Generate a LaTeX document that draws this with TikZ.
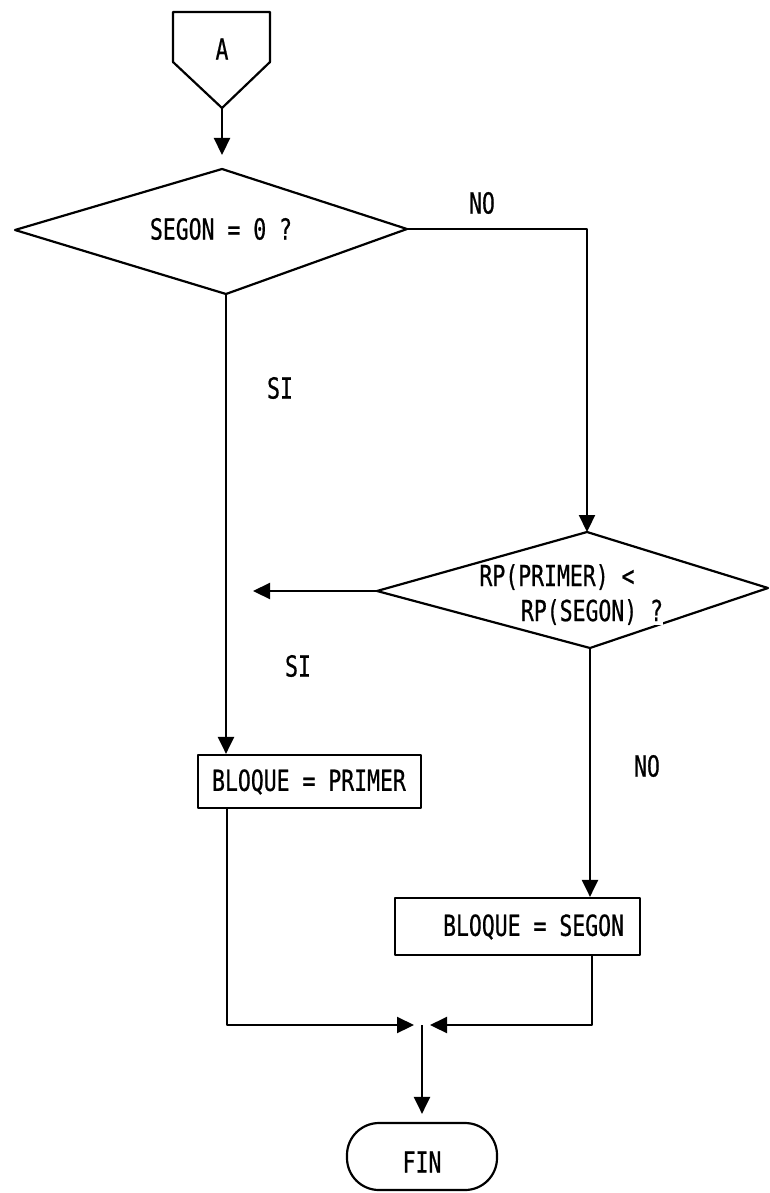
\documentclass[tikz,border=0pt]{standalone}
\usepackage{fontspec}
\setmainfont{DejaVu Sans Mono}[FakeStretch=0.74, FakeBold=0.6]
\usetikzlibrary{arrows.meta}
\begin{document}
\begin{tikzpicture}[x=1pt,y=-1pt,
  line width=2.2pt, line join=round,
  arr/.style={-{Triangle[length=17pt,width=16pt]}},
  txt/.style={font=\fontsize{29}{33}\selectfont, inner sep=0pt},
  lbl/.style={txt, fill=white},
  box/.style={draw, rectangle, inner sep=0pt},
  term/.style={draw, rectangle, rounded corners=32pt, inner sep=0pt},
]
\useasboundingbox (0,0) rectangle (769,1193);

% off-page connector A
\coordinate (aTip) at (222,108);
\draw (173,12) -- (270,12) -- (270,62) -- (aTip) -- (173,62) -- cycle;
\node[txt] (lblA) at (222,49) {A};

% first decision
\coordinate (d1l) at (15,230);
\coordinate (d1t) at (222,169);
\coordinate (d1r) at (407,229);
\coordinate (d1b) at (226,294);
\draw (d1l) -- (d1t) -- (d1r) -- (d1b) -- cycle;
\node[txt] (q1) at (221,229) {SEGON = 0 ?};

% second decision
\coordinate (d2l) at (377,591);
\coordinate (d2t) at (587,532);
\coordinate (d2r) at (768,588);
\coordinate (d2b) at (590,648);
\draw (d2l) -- (d2t) -- (d2r) -- (d2b) -- cycle;
\node[lbl] (q2a) at (557,577) {RP(PRIMER) <};
\node[lbl] (q2b) at (592,612) {RP(SEGON) ?};

% process boxes
\node[box, minimum width=223pt, minimum height=53pt] (b1) at (309.5,781.5) {};
\node[txt, anchor=west] (b1t) at (211,782) {BLOQUE = PRIMER};
\node[box, minimum width=245pt, minimum height=57pt] (b2) at (517.5,926.5) {};
\node[txt, anchor=west] (b2t) at (442,927) {BLOQUE = SEGON};

% terminal
\node[term, minimum width=150pt, minimum height=67pt] (fin) at (422,1156.5) {};
\node[txt] (fint) at (422,1162) {FIN};

% branch labels
\node[txt] (no1) at (482,203) {NO};
\node[txt] (si1) at (280,388) {SI};
\node[txt] (si2) at (298,666) {SI};
\node[txt] (no2) at (647,766) {NO};

% connectors
\coordinate (siEnd) at (253,591);
\coordinate (j) at (422,1025);
\draw[arr, shorten >=14pt] (aTip) -- (d1t);
\draw[arr] (d1r) -| (d2t);
\draw[arr] (d1b) -- (d1b |- b1.north);
\draw[arr] (d2l) -- (siEnd);
\draw[arr] (d2b) -- (d2b |- b2.north);
\draw[arr] ([xshift=30pt]b1.south west) |- ([xshift=-8pt]j);
\draw[arr] ([xshift=198pt]b2.south west) |- ([xshift=8pt]j);
\draw[arr, shorten >=8pt] (j) -- (fin.north);
\end{tikzpicture}
\end{document}
